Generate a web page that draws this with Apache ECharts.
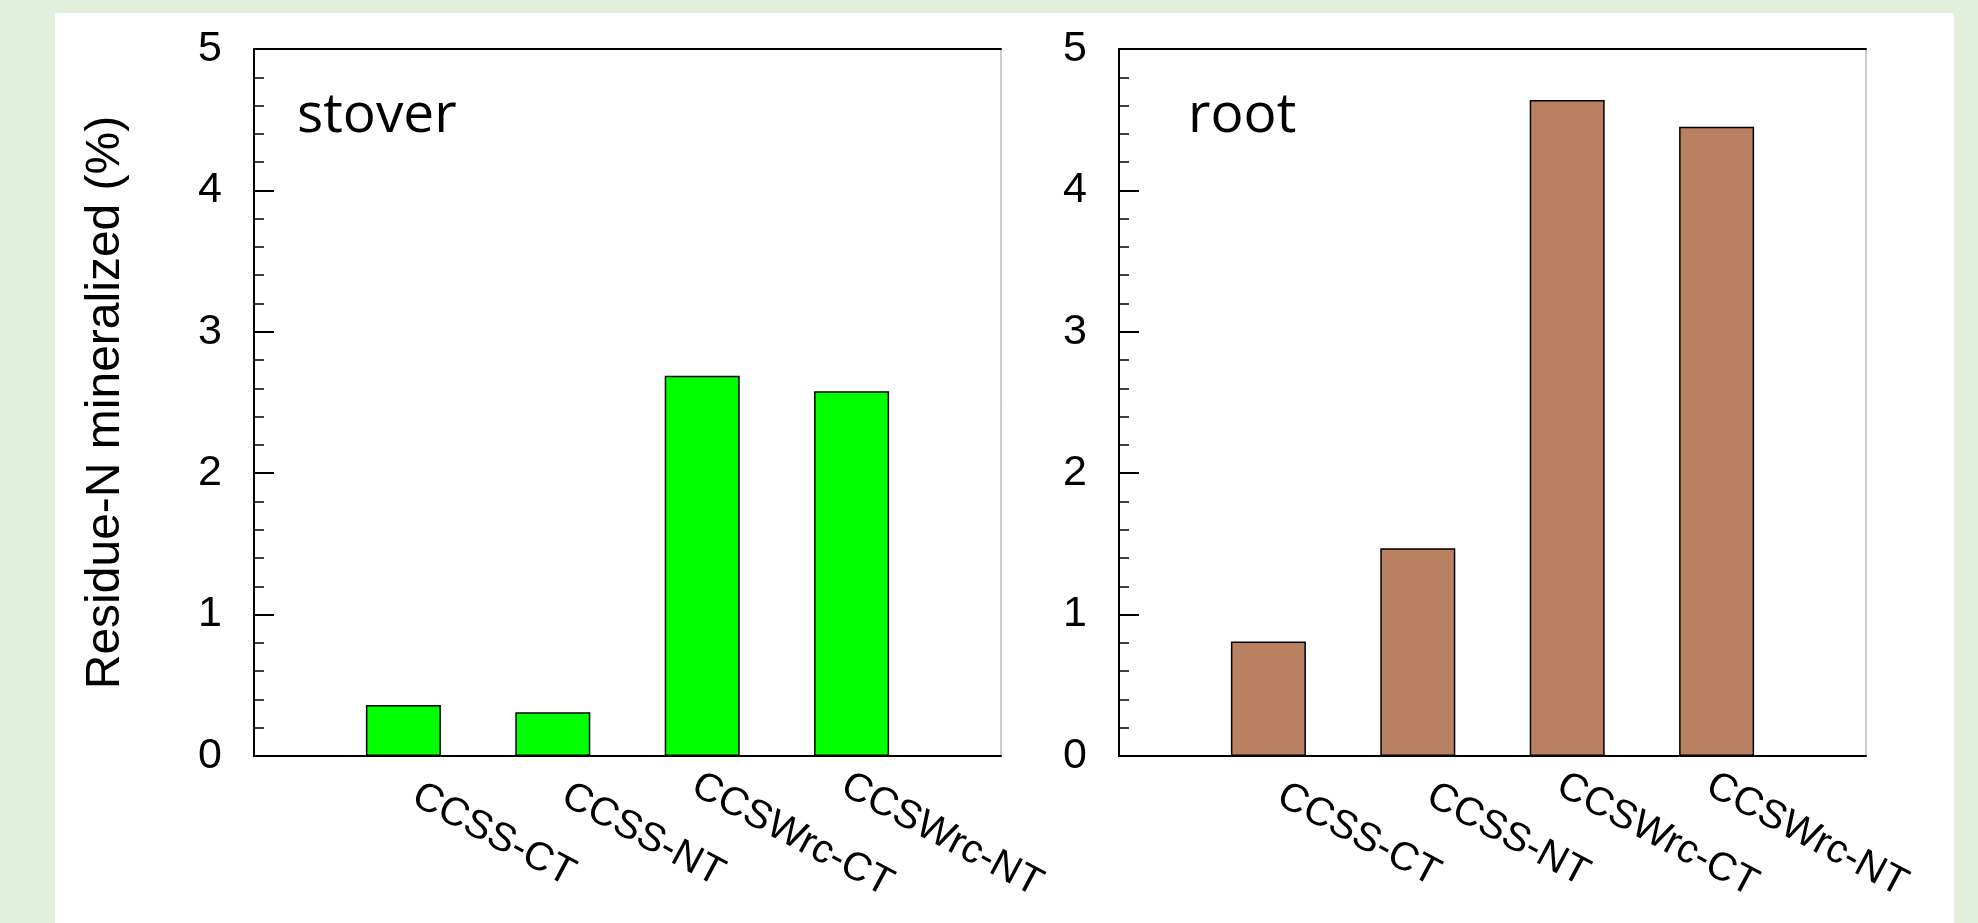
<!DOCTYPE html>
<html>
<head>
<meta charset="utf-8">
<script src="https://cdn.jsdelivr.net/npm/echarts@6/dist/echarts.min.js"></script>
<style>
  html, body { margin: 0; padding: 0; background: #e2efda; }
  #chart { width: 1978px; height: 923px; }
</style>
</head>
<body>
<div id="chart"></div>
<script>
// Treatments shown on the x axis of both panels
const treatments = ['CCSS-CT', 'CCSS-NT', 'CCSWrc-CT', 'CCSWrc-NT'];
// Residue-N mineralized (%) per treatment
const stoverN = [0.36, 0.31, 2.69, 2.58];
const rootN = [0.81, 1.47, 4.64, 4.45];
// Panel labels
const panelNames = ['stover', 'root'];
const yAxisTitle = 'Residue-N mineralized (%)';

// Empty slots at both ends so the four bars sit at positions 1..4 of a 0..5 scale
const axisCats = [''].concat(treatments, ['']);
const pad = arr => [null].concat(arr, [null]);

const AXIS_FONT = '"Liberation Sans", Arial, Helvetica, sans-serif';
const PANEL_FONT = '"Open Sans", Lato, sans-serif';
const black = '#000';

function grid(left) {
  return {
    left: left, top: 49, width: 747, height: 707,
    outerBoundsMode: 'none', containLabel: false,
    show: true, backgroundColor: 'transparent',
    borderColor: '#9a9a9a', borderWidth: 1
  };
}

function catAxis(gi) {
  return {
    type: 'category', gridIndex: gi, data: axisCats, boundaryGap: false,
    axisLine: { lineStyle: { color: black, width: 2 } },
    axisTick: { show: false },
    splitLine: { show: false },
    axisLabel: {
      interval: 0, rotate: -28, margin: 31,
      // slanted names are centred a fixed distance down-right of their tick
      align: 'center', verticalAlign: 'middle', padding: [0, 0, 0, 204],
      fontSize: 40, color: black, fontFamily: AXIS_FONT
    }
  };
}

function topBorder(gi) {
  return {
    type: 'value', gridIndex: gi, position: 'top', min: 0, max: 5,
    axisLine: { show: true, lineStyle: { color: black, width: 2 } },
    axisTick: { show: false }, axisLabel: { show: false }, splitLine: { show: false }
  };
}

function valAxis(gi, withName) {
  const ax = {
    type: 'value', gridIndex: gi, min: 0, max: 5, interval: 1,
    axisLine: { show: true, lineStyle: { color: black, width: 2 } },
    axisTick: { show: true, inside: true, length: 20, lineStyle: { color: black, width: 2 } },
    minorTick: { show: true, splitNumber: 5, length: 10, lineStyle: { color: black, width: 1.5 } },
    splitLine: { show: false },
    minorSplitLine: { show: false },
    axisLabel: { margin: 32, fontSize: 43, color: black, fontFamily: AXIS_FONT }
  };
  if (withName) {
    ax.name = yAxisTitle;
    ax.nameLocation = 'middle';
    ax.nameGap = 124;
    ax.nameTextStyle = { fontSize: 48, color: black, fontFamily: AXIS_FONT };
  }
  return ax;
}

function barSeries(xi, yi, values, color) {
  return {
    type: 'bar', xAxisIndex: xi, yAxisIndex: yi,
    data: pad(values), barWidth: 75,
    itemStyle: { color: color, borderColor: black, borderWidth: 1.5 },
    emphasis: { disabled: true }
  };
}

function panelLabel(text, left) {
  return {
    text: text, left: left, top: 89, padding: 0,
    textStyle: { fontSize: 55, fontWeight: 'normal', color: black, fontFamily: PANEL_FONT }
  };
}

const chart = echarts.init(document.getElementById('chart'), null, { renderer: 'canvas' });
chart.setOption({
  backgroundColor: '#e2efda',
  animation: false,
  graphic: [{
    type: 'rect', z: -10, silent: true,
    shape: { x: 55, y: 13, width: 1899, height: 910 },
    style: { fill: '#ffffff' }
  }],
  title: [panelLabel(panelNames[0], 297), panelLabel(panelNames[1], 1188)],
  grid: [grid(254), grid(1119)],
  xAxis: [catAxis(0), catAxis(1), topBorder(0), topBorder(1)],
  yAxis: [valAxis(0, true), valAxis(1, false)],
  series: [
    barSeries(0, 0, stoverN, '#00ff00'),
    barSeries(1, 1, rootN, '#b98061')
  ]
});
</script>
</body>
</html>
